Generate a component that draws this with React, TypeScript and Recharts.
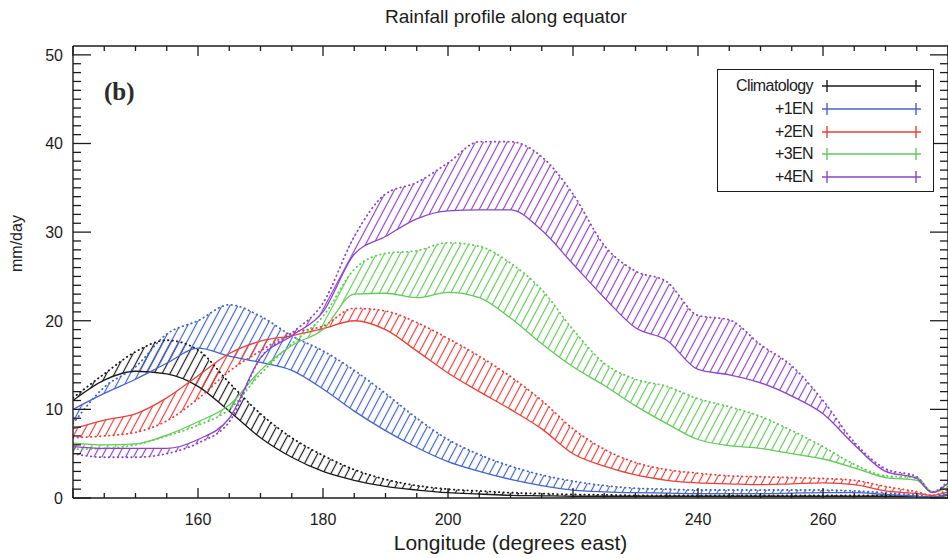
import { Area, ComposedChart, Label, Line, ReferenceLine, XAxis, YAxis } from 'recharts';

// longitude (degrees east)
const lon = [
  140, 145, 150, 155, 160, 165, 170, 175, 180, 185, 190, 195, 200, 205, 210,
  215, 220, 225, 230, 235, 240, 245, 250, 255, 260, 265, 270, 275, 277.5, 280,
];

// rainfall, mm/day: solid = lower edge, dotted = upper edge of each band
const climSolid = [
  11.0, 13.3, 14.3, 14.0, 12.6, 9.8, 6.8, 4.6, 3.0, 2.0, 1.3, 0.9, 0.6, 0.45,
  0.3, 0.25, 0.2, 0.2, 0.2, 0.2, 0.2, 0.2, 0.2, 0.2, 0.2, 0.2, 0.2, 0.15, 0.1, 0.3,
];
const climDotted = [
  11.3, 14.0, 16.5, 17.8, 16.7, 13.0, 9.5, 6.8, 4.8, 3.2, 2.1, 1.4, 1.0, 0.8,
  0.6, 0.5, 0.4, 0.35, 0.3, 0.3, 0.3, 0.3, 0.3, 0.3, 0.3, 0.3, 0.3, 0.2, 0.1, 0.5,
];
const en1Solid = [
  10.0, 11.8, 13.4, 15.2, 16.9, 16.0, 15.3, 14.4, 12.3, 9.8, 7.6, 5.7, 4.1, 3.0,
  2.1, 1.4, 0.9, 0.7, 0.6, 0.55, 0.5, 0.5, 0.5, 0.55, 0.6, 0.6, 0.4, 0.2, 0.1, 0.4,
];
const en1Dotted = [
  8.4, 12.5, 14.8, 18.5, 20.0, 21.8, 20.5, 18.3, 16.6, 14.4, 11.8, 9.0, 6.6, 4.9,
  3.6, 2.6, 1.9, 1.4, 1.1, 1.0, 0.9, 0.9, 0.9, 0.9, 0.9, 0.8, 0.6, 0.3, 0.1, 0.6,
];
const en2Solid = [
  7.8, 8.8, 9.5, 11.3, 13.8, 16.3, 17.7, 18.3, 19.1, 20.0, 19.0, 16.6, 14.1, 12.0,
  10.0, 7.8, 5.0, 3.6, 2.6, 2.0, 1.7, 1.6, 1.5, 1.6, 1.7, 1.5, 0.8, 0.5, 0.3, 0.7,
];
const en2Dotted = [
  6.8, 7.0, 7.4, 8.7, 11.2, 14.3, 16.6, 18.6, 19.4, 21.4, 21.1, 19.8, 18.0, 16.0,
  13.7, 11.0, 7.8, 5.5, 4.0, 3.2, 2.8, 2.5, 2.4, 2.3, 2.2, 2.0, 1.3, 0.7, 0.3, 1.0,
];
const en3Solid = [
  6.2, 6.0, 6.1, 7.1, 8.6, 10.5, 14.4, 17.2, 19.0, 23.0, 23.1, 22.6, 23.2, 22.6,
  20.3, 17.4, 14.8, 12.7, 10.4, 8.4, 6.6, 5.9, 5.6, 5.0, 4.4, 3.4, 2.3, 2.0, 0.6, 1.2,
];
const en3Dotted = [
  5.5, 5.6, 6.0, 7.0, 8.2, 10.0, 14.0, 17.4, 20.5, 25.8, 27.6, 27.9, 28.8, 28.4,
  26.5, 23.5, 19.0, 15.2, 13.4, 12.6, 11.2, 10.3, 9.2, 7.6, 5.8, 3.8, 2.5, 2.3, 0.7, 1.5,
];
const en4Solid = [
  5.8, 5.6, 5.6, 5.6, 6.6, 9.0, 15.8, 18.3, 21.0, 27.5, 29.5, 31.5, 32.4, 32.5,
  32.5, 30.2, 26.4, 22.6, 19.2, 17.8, 14.5, 13.9, 13.0, 11.5, 9.5, 6.0, 3.0, 2.2, 0.6, 1.7,
];
const en4Dotted = [
  5.0, 4.6, 4.6, 5.0, 6.2, 8.6, 15.8, 18.6, 22.0, 29.5, 34.3, 35.6, 37.8, 40.2,
  40.2, 38.5, 34.3, 28.5, 25.6, 24.4, 20.6, 20.1, 17.3, 14.9, 11.0, 6.3, 3.3, 2.4, 0.7, 1.9,
];

const names = ['Climatology', '+1EN', '+2EN', '+3EN', '+4EN'];
const keys = ['clim', 'en1', 'en2', 'en3', 'en4'];
const colors = ['#1a1a1a', '#4464c6', '#e8413d', '#62ca58', '#8c45c9'];
const solids = [climSolid, en1Solid, en2Solid, en3Solid, en4Solid];
const dotteds = [climDotted, en1Dotted, en2Dotted, en3Dotted, en4Dotted];

const xLabels = [160, 180, 200, 220, 240, 260];
const xTicks = Array.from({ length: 29 }, (_, i) => 140 + i * 5);
const yTicks = Array.from({ length: 51 }, (_, i) => i);

const rows = lon.map((x, i) => {
  const r: Record<string, number> = { lon: x };
  keys.forEach((k, j) => {
    r[k + 'S'] = solids[j][i];
    r[k + 'D'] = dotteds[j][i];
  });
  return r;
});

const font = '"Liberation Sans", Arial, sans-serif';
const ink = '#1c1c1c';
const X_DOMAIN: [number, number] = [140, 280];
const Y_DOMAIN: [number, number] = [0, 51];
const W = 948;
const H = 558;
const M = { bottom: 30, left: 0, right: 0, top: 46 };
const Y_AXIS_W = 73;
const PLOT_W = W - Y_AXIS_W - M.left - M.right;
const PLOT_H = H - 30 - M.top - M.bottom;

// inward ticks on bottom and (mirrored) top edges
const XTick = ({ x, y, payload }: any) => {
  const v = payload.value;
  const len = v % 20 === 0 ? 10 : 5;
  return (
    <g stroke={ink} strokeWidth={1.3}>
      <line x1={x} x2={x} y1={y} y2={y - len} />
      <line x1={x} x2={x} y1={y - PLOT_H} y2={y - PLOT_H + len} />
      {xLabels.includes(v) && (
        <text fill={ink} fontSize={16} stroke="none" textAnchor="middle" x={x} y={y + 27}>
          {v}
        </text>
      )}
    </g>
  );
};

// inward ticks on left and (mirrored) right edges
const YTick = ({ x, y, payload }: any) => {
  const v = payload.value;
  const len = v % 10 === 0 ? 18 : 8;
  return (
    <g stroke={ink} strokeWidth={1.3}>
      <line x1={x} x2={x + len} y1={y} y2={y} />
      <line x1={x + PLOT_W} x2={x + PLOT_W - len} y1={y} y2={y} />
      {v % 10 === 0 && (
        <text dy="0.36em" fill={ink} fontSize={16} stroke="none" textAnchor="end" x={x - 10} y={y}>
          {v}
        </text>
      )}
    </g>
  );
};

const LegendBox = () => (
  <div
    style={{
      position: 'absolute',
      left: 717,
      top: 69,
      width: 217,
      height: 123,
      border: `1.4px solid ${ink}`,
      background: '#fff',
      fontFamily: font,
      fontSize: 16,
      color: ink,
      paddingTop: 5,
      boxSizing: 'border-box',
    }}
  >
    {names.map((n, i) => (
      <div
        key={n}
        style={{ display: 'flex', alignItems: 'center', height: 22.7 }}
      >
        <span
          style={{
            width: 95,
            textAlign: 'right',
            letterSpacing: -0.6,
            lineHeight: '18px',
          }}
        >
          {n}
        </span>
        <svg height={14} style={{ marginLeft: 9 }} width={100}>
          <line stroke={colors[i]} strokeWidth={1.4} x1={0} x2={99} y1={7} y2={7} />
          <line stroke={colors[i]} strokeWidth={1.4} x1={5} x2={5} y1={1} y2={13} />
          <line stroke={colors[i]} strokeWidth={1.4} x1={94} x2={94} y1={1} y2={13} />
        </svg>
      </div>
    ))}
  </div>
);

export default function App() {
  return (
    <div
      style={{
        position: 'absolute',
        left: 0,
        top: 0,
        width: W,
        height: H,
        background: '#fff',
        overflow: 'hidden',
      }}
    >
      <div
        style={{
          position: 'absolute',
          left: 506,
          top: 6,
          transform: 'translateX(-50%)',
          whiteSpace: 'nowrap',
          fontFamily: font,
          fontSize: 19,
          color: ink,
        }}
      >
        Rainfall profile along equator
      </div>
      <ComposedChart
        data={rows}
        height={H}
        margin={M}
        style={{ fontFamily: font }}
        width={W}
      >
        <defs>
          {keys.map((k, i) => (
            <pattern
              height={7}
              id={`hatch-${k}`}
              key={k}
              patternTransform="rotate(28)"
              patternUnits="userSpaceOnUse"
              width={7}
            >
              <line stroke={colors[i]} strokeWidth={1.2} x1={3.5} x2={3.5} y1={0} y2={7} />
            </pattern>
          ))}
        </defs>

        <XAxis
          allowDataOverflow
          axisLine={{ stroke: ink, strokeWidth: 1.4 }}
          dataKey="lon"
          domain={X_DOMAIN}
          height={30}
          interval={0}
          tick={<XTick />}
          tickLine={false}
          tickMargin={0}
          tickSize={0}
          ticks={xTicks}
          type="number"
        >
          <Label
            fill={ink}
            fontSize={21}
            offset={7}
            position="bottom"
            value="Longitude (degrees east)"
          />
        </XAxis>
        <YAxis
          allowDataOverflow
          axisLine={{ stroke: ink, strokeWidth: 1.4 }}
          domain={Y_DOMAIN}
          interval={0}
          tick={<YTick />}
          tickLine={false}
          tickMargin={0}
          tickSize={0}
          ticks={yTicks}
          type="number"
          width={Y_AXIS_W}
        >
          <Label
            angle={-90}
            fill={ink}
            fontSize={16}
            offset={16}
            position="insideLeft"
            value="mm/day"
          />
        </YAxis>
        <ReferenceLine stroke={ink} strokeWidth={1.4} y={51} />
        <ReferenceLine stroke={ink} strokeWidth={1.4} x={280} />

        {keys.flatMap((k, i) => [
          <Area
            activeDot={false}
            dataKey={(r: Record<string, number>) => [r[k + 'S'], r[k + 'D']]}
            fill={`url(#hatch-${k})`}
            fillOpacity={1}
            isAnimationActive={false}
            key={k + 'area'}
            stroke="none"
            type="monotone"
          />,
          <Line
            activeDot={false}
            dataKey={k + 'S'}
            dot={false}
            isAnimationActive={false}
            key={k + 'S'}
            stroke={colors[i]}
            strokeWidth={1.3}
            type="monotone"
          />,
          <Line
            activeDot={false}
            dataKey={k + 'D'}
            dot={false}
            isAnimationActive={false}
            key={k + 'D'}
            stroke={colors[i]}
            strokeDasharray="0.5 4"
            strokeLinecap="round"
            strokeWidth={1.8}
            type="monotone"
          />,
        ])}
      </ComposedChart>
      <div
        style={{
          position: 'absolute',
          left: 104,
          top: 78,
          fontFamily: '"Liberation Serif", "Times New Roman", serif',
          fontWeight: 'bold',
          fontSize: 25,
          color: '#2a2a2a',
        }}
      >
        (b)
      </div>
      <LegendBox />
    </div>
  );
}
